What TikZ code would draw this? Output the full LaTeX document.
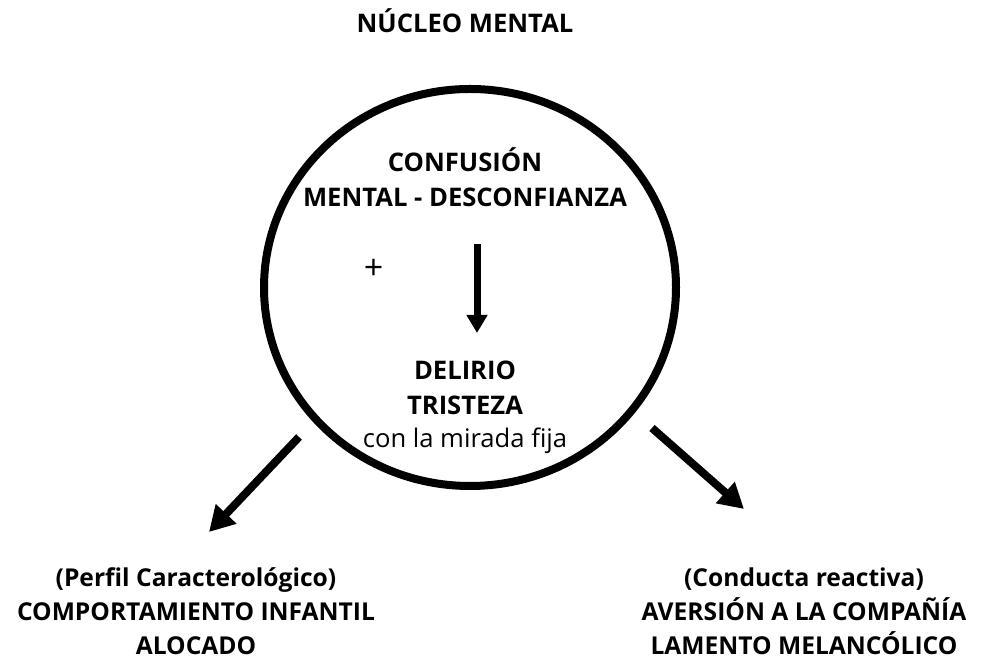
\documentclass[tikz,border=0pt]{standalone}
\usepackage{fontspec}
\setmainfont{Open Sans}
\usetikzlibrary{arrows.meta}
\newcommand{\tikztextb}[4]{\node (#1) at (#2, #3) [anchor = base] {\textbf{#4}};}
\newcommand{\tikztextr}[4]{\node (#1) at (#2, #3) [anchor = base] {#4};}

\begin{document}
\begin{tikzpicture}[x = 1pt, y = 1pt,
    every node/.style = {inner sep = 0pt, font = \fontsize{25.6}{30}\selectfont},
    unten/.style = {font = \fontsize{24.6}{30}\selectfont},
    pfeil/.style = {line width = 7pt, -{Triangle[length = 18pt, width = 20pt]}},
    schraeg/.style = {line width = 8pt, -{Triangle[length = 25pt, width = 27pt]}}]
  % Bounding box
  \useasboundingbox (0, 0) rectangle (992, 660);
  % Titel
  \tikztextb{titel}{465}{627}{NÚCLEO MENTAL}
  % Kreis
  \draw [line width = 8pt] (470, 372.5) ellipse (206 and 198.5);
  % oben im Kreis
  \tikztextb{konf}{465}{488}{CONFUSIÓN}
  \tikztextb{mental}{465}{453}{MENTAL - DESCONFIANZA}
  \node (plus) at (373.5, 391) [font = \fontsize{34}{40}\selectfont] {+};
  % unten im Kreis
  \tikztextb{delirio}{465}{280}{DELIRIO}
  \tikztextb{tristeza}{465}{245}{TRISTEZA}
  \tikztextr{mirada}{465}{212}{con la mirada fija}
  % links unten
  \begin{scope}[every node/.append style = {unten}]
    \tikztextb{perfil}{196}{73}{(Perfil Caracterológico)}
    \tikztextb{comport}{196}{39}{COMPORTAMIENTO INFANTIL}
    \tikztextb{alocado}{196}{5}{ALOCADO}
  % rechts unten
    \tikztextb{conducta}{804}{73}{(Conducta reactiva)}
    \tikztextb{aversion}{804}{39}{AVERSIÓN A LA COMPAÑÍA}
    \tikztextb{lamento}{804}{5}{LAMENTO MELANCÓLICO}
  \end{scope}
  % Pfeile
  \coordinate (pa) at (477, 416);
  \coordinate (pb) at (477, 327);
  \coordinate (la) at (299, 223);
  \coordinate (lb) at (209, 128);
  \coordinate (ra) at (652, 232);
  \coordinate (rb) at (744, 151);
  \draw [pfeil] (pa) -- (pb);
  \draw [schraeg] (la) -- (lb);
  \draw [schraeg] (ra) -- (rb);
\end{tikzpicture}
\end{document}
